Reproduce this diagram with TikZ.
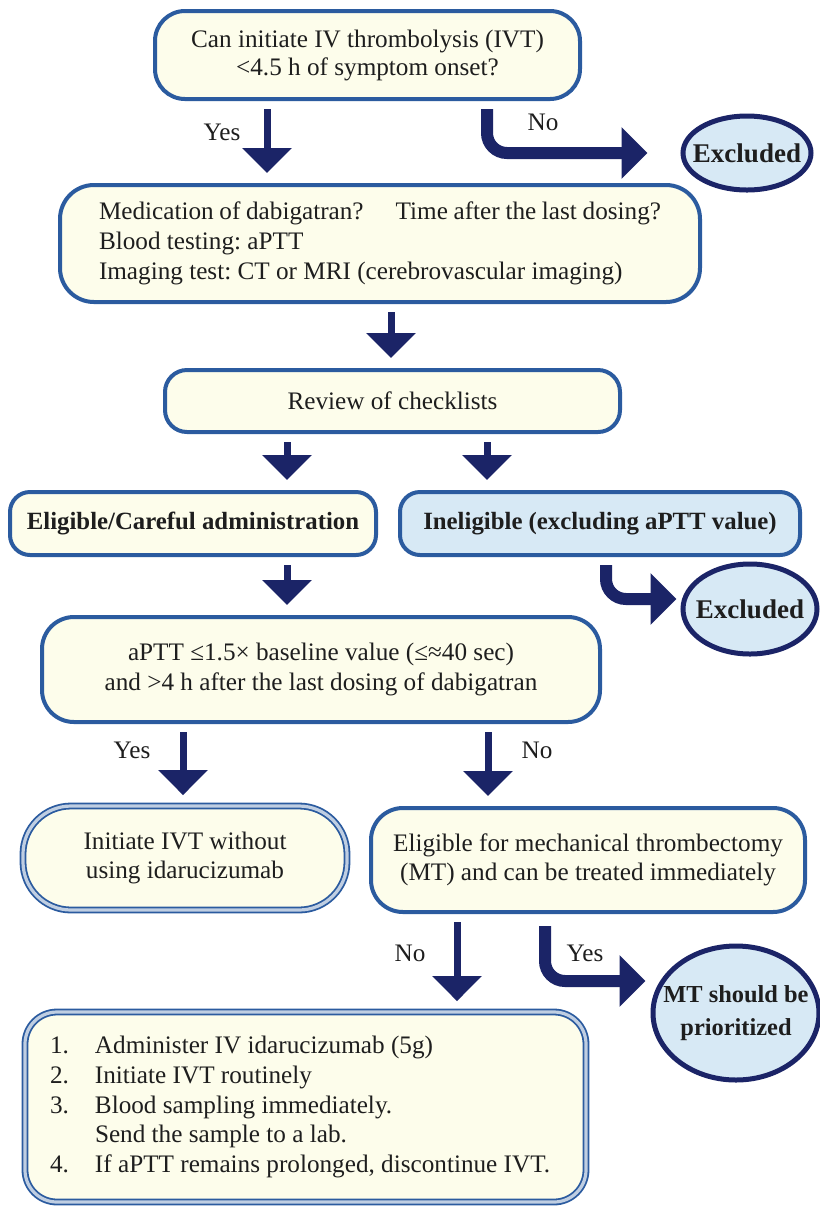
\documentclass[tikz,border=0pt]{standalone}
\usepackage{fontspec}
\setmainfont{Liberation Serif}
\usetikzlibrary{arrows.meta,shapes.geometric}
\definecolor{boxblue}{HTML}{2B5B9F}
\definecolor{navy}{HTML}{1B2467}
\definecolor{yfill}{HTML}{FDFDEB}
\definecolor{bfill}{HTML}{D7E9F5}
\definecolor{txt}{HTML}{1E1E1E}
\begin{document}
\frenchspacing
\begin{tikzpicture}[x=0.5pt,y=-0.5pt,
  base/.style={draw=boxblue, line width=2pt, rounded corners=14pt, text=txt,
    font=\fontsize{12.6}{14.5}\selectfont, align=center, inner sep=0pt},
  ybox/.style={base, fill=yfill},
  bbox/.style={base, fill=bfill},
  dbox/.style={ybox, line width=0.9pt, double=white!70!boxblue, double distance=1.6pt},
  ell/.style={ellipse, draw=navy, line width=2.5pt, fill=bfill, inner xsep=-12pt, inner ysep=-6pt,
    align=center, text=txt, font=\fontsize{12.6}{16}\selectfont\bfseries},
  sarr/.style={draw=navy, line width=3.5pt, -{Triangle[width=24pt,length=12.5pt]},
    shorten <=4pt, shorten >=5pt},
  carr/.style={draw=navy, line width=6pt, rounded corners=10pt,
    -{Triangle[width=25pt,length=13pt]}},
  lab/.style={text=txt, font=\fontsize{12.6}{14.5}\selectfont, inner sep=0pt}
]
\fill[white] (0,0) rectangle (820,1207);
\useasboundingbox (0,0) rectangle (820,1207);

% boxes
\node[ybox, minimum width=212.5pt, minimum height=44pt, rounded corners=15pt,
  font=\fontsize{12.6}{14}\selectfont] (b1) at (367.5,55)
  {Can initiate IV thrombolysis (IVT)\\<4.5 h of symptom onset?};
\node[ybox, minimum width=320pt, minimum height=58.5pt, rounded corners=17pt,
  align=flush left, text width=281pt, inner xsep=19.5pt,
  font=\fontsize{12.6}{15}\selectfont] (b2) at (380,243.5)
  {Medication of dabigatran?\hspace{16pt}Time after the last dosing?\\
   Blood testing: aPTT\\
   Imaging test: CT or MRI (cerebrovascular imaging)};
\node[ybox, minimum width=227.5pt, minimum height=31pt, rounded corners=11pt] (b3) at (392.5,401)
  {Review of checklists};
\node[ybox, minimum width=183pt, minimum height=31.5pt, rounded corners=10pt,
  font=\fontsize{12.4}{14.5}\selectfont\bfseries] (b4a) at (193,523.5)
  {Eligible/Careful administration};
\node[bbox, minimum width=200pt, minimum height=31.5pt, rounded corners=10pt,
  font=\fontsize{12.4}{14.5}\selectfont\bfseries] (b4b) at (600,523.5)
  {Ineligible (excluding aPTT value)};
\node[ybox, minimum width=279pt, minimum height=52.5pt, rounded corners=16pt,
  font=\fontsize{12.6}{15}\selectfont] (b5) at (321,669.5)
  {aPTT ≤1.5× baseline value (≤≈40 sec)\\and >4 h after the last dosing of dabigatran};
\node[dbox, minimum width=162pt, minimum height=52pt, rounded corners=24pt] (b6a) at (185,858)
  {Initiate IVT without\\using idarucizumab};
\node[ybox, minimum width=217pt, minimum height=52pt, rounded corners=16pt] (b6b) at (588,860)
  {Eligible for mechanical thrombectomy\\(MT) and can be treated immediately};
\node[dbox, minimum width=280.5pt, minimum height=95pt, rounded corners=16pt,
  align=flush left, text width=255.5pt, inner xsep=12.5pt,
  font=\fontsize{12.6}{14.8}\selectfont] (b7) at (305.5,1107)
  {\makebox[22.5pt][l]{1.}Administer IV idarucizumab (5g)\\
   \makebox[22.5pt][l]{2.}Initiate IVT routinely\\
   \makebox[22.5pt][l]{3.}Blood sampling immediately.\\
   \hspace*{22.5pt}Send the sample to a lab.\\
   \makebox[22.5pt][l]{4.}If aPTT remains prolonged, discontinue IVT.};

% terminal ellipses
\node[ell, minimum width=64pt, minimum height=37pt, font=\fontsize{13.5}{15}\selectfont\bfseries] (e1) at (747,153) {Excluded};
\node[ell, minimum width=67pt, minimum height=45pt, font=\fontsize{13.5}{15}\selectfont\bfseries] (e2) at (750,609) {Excluded};
\node[ell, minimum width=83pt, minimum height=67pt, inner xsep=-16pt, inner ysep=-8pt,
  font=\fontsize{12.2}{16.5}\selectfont\bfseries] (e3) at (736,1013) {MT should be\\prioritized};

% straight arrows
\draw[sarr] ([xshift=-50.25pt]b1.south) -- ([xshift=-56.5pt]b2.north);
\draw[sarr] ([xshift=5.5pt]b2.south) -- ([xshift=-0.75pt]b3.north);
\draw[sarr] ([xshift=-52.75pt]b3.south) -- ([xshift=47pt]b4a.north);
\draw[sarr] ([xshift=47.25pt]b3.south) -- ([xshift=-56.5pt]b4b.north);
\draw[sarr] ([xshift=47pt]b4a.south) -- ([xshift=-17pt]b5.north);
\draw[sarr] ([xshift=-69pt]b5.south) -- ([xshift=-1pt]b6a.north);
\draw[sarr] ([xshift=83.5pt]b5.south) -- ([xshift=-50pt]b6b.north);
\draw[sarr] ([xshift=-65.5pt]b6b.south) -- ([xshift=75.75pt]b7.north);

% bent arrows
\draw[carr] ([xshift=59.75pt,yshift=-4pt]b1.south) |- ([xshift=-16.5pt,yshift=0pt]e1.west);
\draw[carr] ([xshift=3pt,yshift=-4pt]b4b.south) |- ([xshift=-2pt,yshift=5pt]e2.west);
\draw[carr] ([xshift=-21.5pt,yshift=-6pt]b6b.south) |- ([xshift=-2.5pt,yshift=16pt]e3.west);

% labels
\node[lab] (l1) at (222,132) {Yes};
\node[lab] (l2) at (543,122) {No};
\node[lab] (l3) at (132,750) {Yes};
\node[lab] (l4) at (537,750) {No};
\node[lab] (l5) at (410,953) {No};
\node[lab] (l6) at (585,953) {Yes};
\end{tikzpicture}
\end{document}
